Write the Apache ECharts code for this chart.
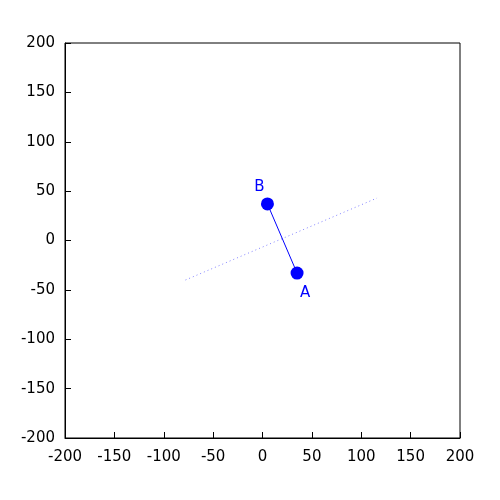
<!DOCTYPE html>
<html><head><meta charset="utf-8">
<script src="https://cdn.jsdelivr.net/npm/echarts@6/dist/echarts.min.js"></script>
<style>html,body{margin:0;padding:0;background:#fff}#c{width:500px;height:500px}</style>
</head><body><div id="c"></div>
<script>
var pointNames = ['A', 'B'];
var pointX = [35, 5];
var pointY = [-33, 37];
var bisectorX = [-78, 116];
var bisectorY = [-40, 43];
var tickValues = [-200, -150, -100, -50, 0, 50, 100, 150, 200];

var chart = echarts.init(document.getElementById('c'), null, {renderer: 'canvas'});
var font = 'DejaVu Sans';
function axisOpt(margin) {
  return {
    type: 'value', min: -200, max: 200, interval: 50,
    axisLine: {show: true, onZero: false, lineStyle: {color: '#000', width: 1}},
    axisTick: {show: true, inside: true, length: 6, lineStyle: {color: '#000'}},
    axisLabel: {color: '#000', fontFamily: font, fontSize: 15, margin: margin,
      formatter: function(v){ return tickValues.indexOf(v) >= 0 ? String(v) : ''; }},
    splitLine: {show: false}
  };
}
chart.setOption({
  animation: false,
  grid: {left: 65, right: 40, top: 43, bottom: 62, show: true, borderColor: '#000', borderWidth: 1},
  xAxis: axisOpt(12),
  yAxis: axisOpt(10),
  series: [
    {type: 'line', data: bisectorX.map(function(x, i){return [x, bisectorY[i]];}),
     showSymbol: false, symbol: 'none', lineStyle: {color: '#8080ff', width: 1, type: [1, 3]}, z: 1},
    {type: 'line', data: pointX.map(function(x, i){return [x, pointY[i]];}),
     showSymbol: false, symbol: 'none', lineStyle: {color: '#0000ff', width: 1}, z: 2},
    {type: 'scatter', data: [[pointX[0], pointY[0]]], symbolSize: 13, itemStyle: {color: '#0000ff', opacity: 1},
     label: {show: true, formatter: pointNames[0], position: 'bottom', offset: [8, 1], color: '#0000ff', fontFamily: font, fontSize: 15}, z: 3},
    {type: 'scatter', data: [[pointX[1], pointY[1]]], symbolSize: 13, itemStyle: {color: '#0000ff', opacity: 1},
     label: {show: true, formatter: pointNames[1], position: 'top', offset: [-8, 2], color: '#0000ff', fontFamily: font, fontSize: 15}, z: 3}
  ]
});
</script></body></html>
